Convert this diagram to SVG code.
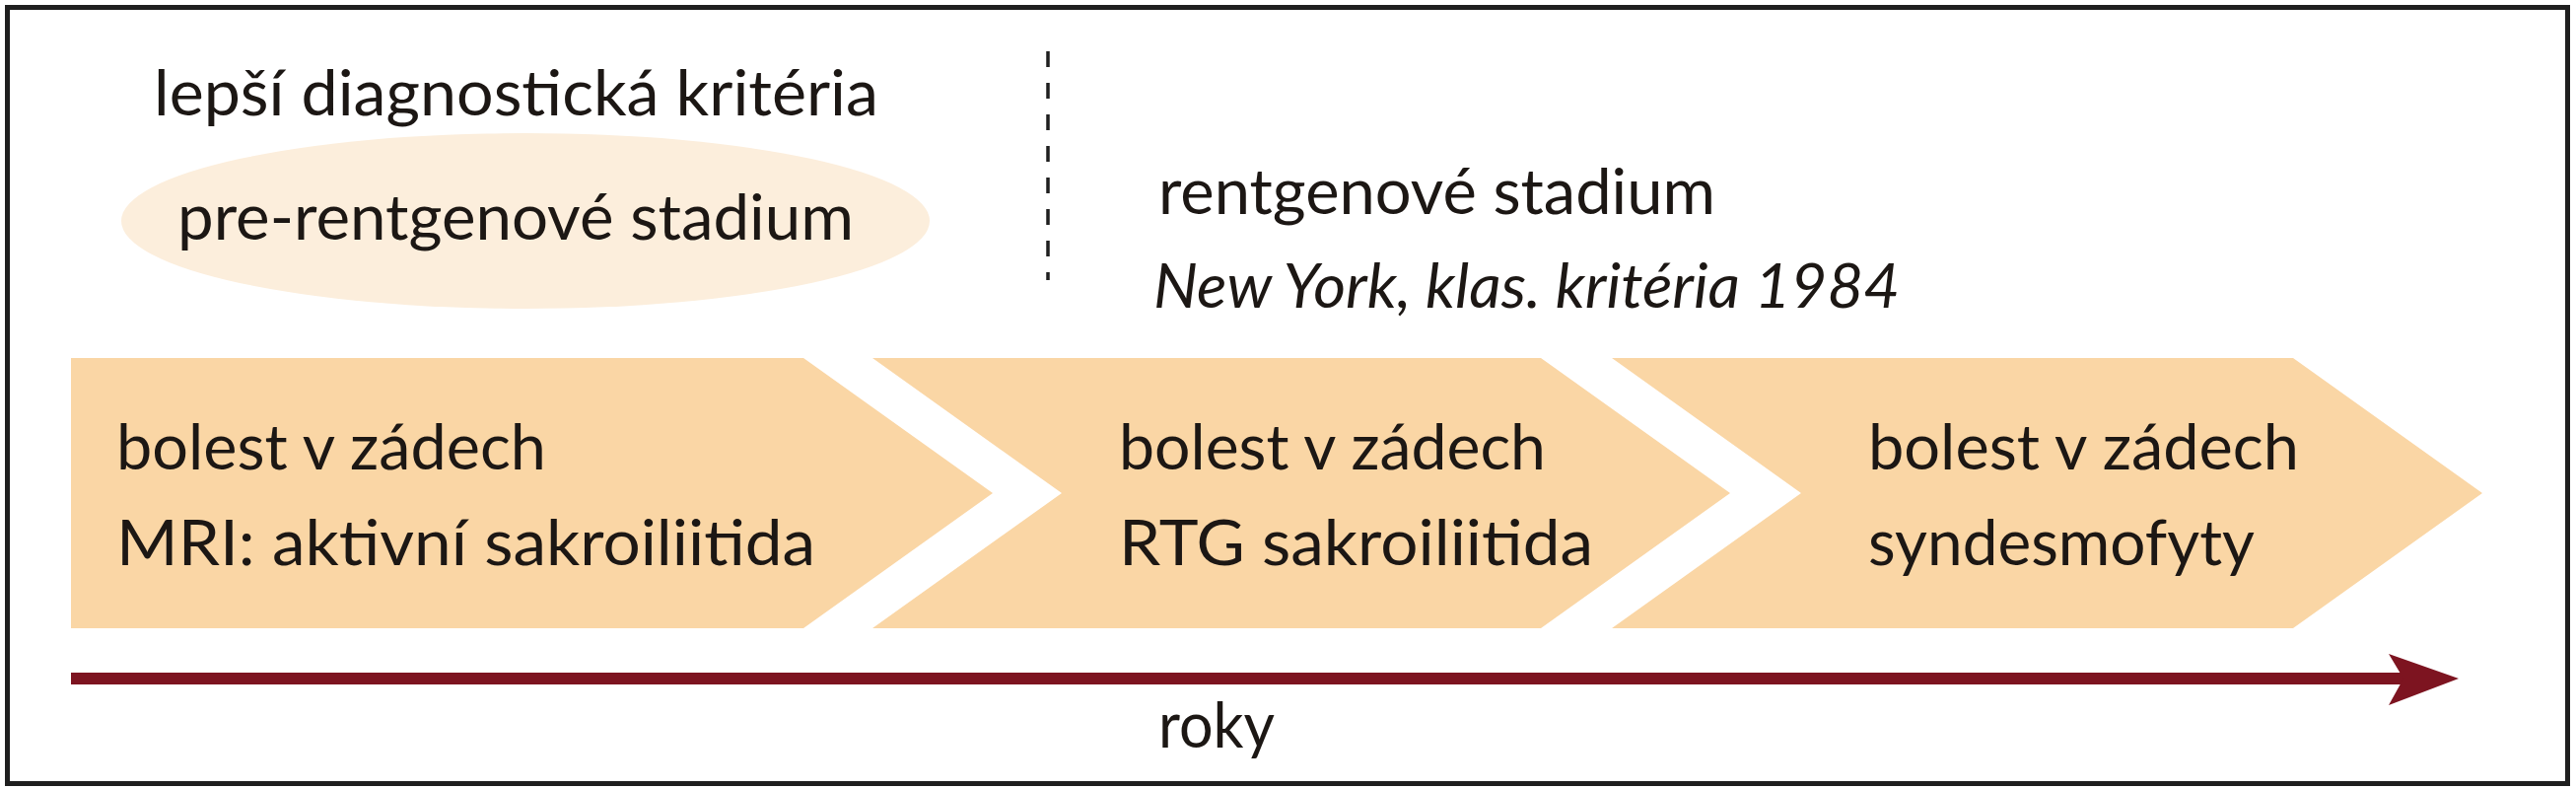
<svg xmlns="http://www.w3.org/2000/svg" width="2613" height="800" viewBox="0 0 2613 800">
<style>
.t{font-family:Lato,"Open Sans","Liberation Sans",sans-serif;font-size:63px;fill:#1c1714}
.it{font-style:italic}
.chev{fill:#FAD6A5}
</style>
<rect x="0" y="0" width="2613" height="800" fill="#ffffff"/>
<rect id="frame" x="7.5" y="7.5" width="2597" height="787" fill="none" stroke="#1f1f1f" stroke-width="5"/>
<g id="header-left">
<text class="t" x="156" y="117" textLength="735" lengthAdjust="spacingAndGlyphs">lepší diagnostická kritéria</text>
</g>
<g id="pre-rentgen">
<ellipse cx="533" cy="224" rx="410" ry="89" fill="#FCEEDC"/>
<text class="t" x="180" y="243" textLength="686" lengthAdjust="spacingAndGlyphs">pre-rentgenové stadium</text>
</g>
<g id="divider">
<line x1="1063" y1="52" x2="1063" y2="284" stroke="#1f1f1f" stroke-width="3.5" stroke-dasharray="16 16"/>
</g>
<g id="rentgen">
<text class="t" x="1175" y="217" textLength="565" lengthAdjust="spacingAndGlyphs">rentgenové stadium</text>
<text class="t it" x="1170" y="312" textLength="757" lengthAdjust="spacingAndGlyphs">New York, klas. kritéria 1984</text>
</g>
<g id="stage1">
<polygon class="chev" points="72,363 815,363 1007,500 815,637 72,637"/>
<text class="t" x="118" y="476" textLength="436" lengthAdjust="spacingAndGlyphs">bolest v zádech</text>
<text class="t" x="118" y="573" textLength="709" lengthAdjust="spacingAndGlyphs">MRI: aktivní sakroiliitida</text>
</g>
<g id="stage2">
<polygon class="chev" points="885,363 1563,363 1755,500 1563,637 885,637 1077,500"/>
<text class="t" x="1135" y="476" textLength="433" lengthAdjust="spacingAndGlyphs">bolest v zádech</text>
<text class="t" x="1135" y="573" textLength="481" lengthAdjust="spacingAndGlyphs">RTG sakroiliitida</text>
</g>
<g id="stage3">
<polygon class="chev" points="1635,363 2326,363 2518,500 2326,637 1635,637 1827,500"/>
<text class="t" x="1895" y="476" textLength="437" lengthAdjust="spacingAndGlyphs">bolest v zádech</text>
<text class="t" x="1895" y="573" textLength="392" lengthAdjust="spacingAndGlyphs">syndesmofyty</text>
</g>
<g id="connectors">
<line x1="72" y1="688" x2="2440" y2="688" stroke="#7D1420" stroke-width="12"/>
<polygon points="2423,663 2494,688 2423,715 2438,688" fill="#7D1420"/>
</g>
<g id="axis-label">
<text class="t" x="1175" y="758" textLength="118" lengthAdjust="spacingAndGlyphs">roky</text>
</g>
</svg>
